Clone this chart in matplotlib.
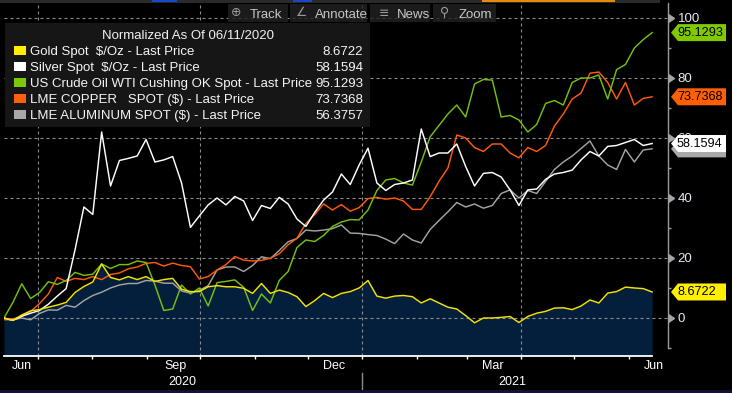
import matplotlib
matplotlib.use('Agg')
import matplotlib.pyplot as plt
import matplotlib.dates as mdates
import matplotlib.markers as mmarkers
from matplotlib.ticker import NullFormatter, FixedLocator, FixedFormatter
from matplotlib.patches import Rectangle, Polygon
from matplotlib.lines import Line2D
from matplotlib.transforms import Affine2D, blended_transform_factory
import pandas as pd

plt.rcParams['font.family'] = ['Liberation Sans', 'DejaVu Sans']

# ---------------- data ----------------
start_date = '2020-06-12'
end_date = '2021-06-14'
n_points = 74

gold = [0, -0.8, 1.0, 2.4, 2.8, 3.6, 4.3, 5.2, 8.5, 10.5, 12.0, 18.0, 13.5, 12.7, 13.8,
        12.8, 13.8, 12.2, 12.8, 13.2, 9.6, 8.8, 8.8, 10.4, 10.8, 10.4, 10.4, 9.9, 8.2,
        11.5, 8.2, 9.3, 8.5, 7.1, 3.8, 5.8, 8.2, 6.8, 8.2, 8.8, 10.0, 12.5, 7.3, 6.6,
        7.3, 7.5, 7.1, 5.0, 6.4, 5.0, 3.6, 3.0, 0.8, -1.6, 0, 0, 0.2, 0.5, -1.5, 0.5,
        1.6, 2.2, 3.3, 3.4, 2.8, 4.0, 6.0, 5.0, 8.3, 8.8, 10.3, 10.0, 9.8, 8.6722]

silver = [0, -0.8, 0.6, 1.6, 2.5, 4.6, 7.3, 9.8, 22.7, 37.0, 34.5, 62.0, 44.0, 52.5,
          53.2, 54.0, 59.5, 52.0, 52.7, 53.8, 45.0, 30.2, 34.0, 37.7, 40.0, 37.7, 40.5,
          39.0, 32.5, 37.5, 36.5, 40.2, 38.0, 33.0, 30.5, 35.2, 39.3, 42.0, 48.0, 44.5,
          51.0, 56.6, 45.0, 42.5, 44.5, 45.0, 46.0, 63.0, 53.8, 55.0, 55.0, 58.0, 50.5,
          44.0, 48.2, 48.5, 47.0, 42.7, 37.5, 42.7, 43.0, 46.2, 48.0, 48.5, 49.3, 52.7,
          55.5, 54.0, 57.2, 57.5, 58.5, 59.5, 57.5, 58.1594]

crude = [0, 5.2, 11.4, 6.5, 8.5, 12.1, 11.2, 12.5, 15.2, 14.2, 14.6, 18.0, 16.5, 17.8,
         17.8, 19.0, 18.5, 11.0, 2.5, 3.0, 11.0, 8.0, 10.0, 4.0, 11.8, 12.2, 12.7, 10.2,
         2.5, 8.0, 5.0, 12.5, 15.5, 23.5, 26.0, 25.5, 27.5, 30.5, 32.0, 32.8, 32.7, 36.0,
         42.5, 46.0, 46.5, 45.0, 44.3, 52.0, 60.4, 64.2, 68.0, 71.0, 67.0, 78.0, 79.5,
         79.3, 67.0, 67.5, 66.0, 62.0, 64.5, 71.5, 72.5, 71.0, 78.5, 80.0, 80.0, 81.0,
         73.0, 82.8, 84.5, 90.0, 92.8, 95.1293]

copper = [-0.5, -0.3, 0.5, 2.2, 4.8, 8.0, 13.5, 12.2, 13.2, 12.8, 13.8, 12.8, 14.5, 15.0,
          16.4, 17.0, 18.2, 18.5, 17.3, 18.3, 17.5, 17.1, 13.0, 13.8, 16.0, 17.8, 20.5,
          19.3, 19.0, 19.2, 19.9, 21.4, 24.4, 26.6, 31.5, 34.5, 38.0, 36.0, 37.8, 35.6,
          36.8, 39.8, 40.2, 39.6, 40.0, 39.0, 36.2, 36.2, 40.4, 45.6, 50.0, 61.0, 60.0,
          56.8, 55.5, 58.0, 58.0, 55.0, 53.4, 56.8, 55.5, 57.5, 64.0, 68.0, 73.0, 75.0,
          81.6, 82.0, 78.5, 73.0, 78.5, 71.0, 73.2, 73.7368]

aluminum = [-0.5, -0.6, 0, -0.6, 1.5, 2.7, 2.6, 4.2, 3.6, 5.8, 7.5, 8.6, 10.0, 11.0,
            11.5, 11.5, 12.5, 12.3, 11.6, 11.6, 9.0, 8.3, 9.2, 10.8, 16.0, 17.0, 17.0,
            15.5, 17.5, 20.4, 19.8, 22.5, 25.4, 26.5, 29.3, 29.0, 29.3, 29.8, 31.0, 28.3,
            28.2, 27.8, 27.5, 26.3, 24.8, 28.0, 26.0, 25.0, 29.5, 32.5, 35.4, 38.5, 37.0,
            38.0, 36.6, 37.5, 41.5, 42.7, 40.0, 42.5, 41.5, 45.5, 49.5, 52.0, 54.0, 56.5,
            59.0, 54.0, 51.0, 49.5, 56.2, 52.0, 56.0, 56.3757]

legend_title = 'Normalized As Of 06/11/2020'
series_labels = ['Gold Spot  \\$/Oz - Last Price',
                 'Silver Spot  \\$/Oz - Last Price',
                 'US Crude Oil WTI Cushing OK Spot - Last Price',
                 'LME COPPER   SPOT (\\$) - Last Price',
                 'LME ALUMINUM SPOT (\\$) - Last Price']
month_labels = ['Jun', 'Sep', 'Dec', 'Mar', 'Jun']
month_label_dates = ['2020-06-22', '2020-09-17', '2020-12-16', '2021-03-16', '2021-06-15']
year_labels = ['2020', '2021']
year_label_dates = ['2020-09-21', '2021-03-27']
year_break_date = '2021-01-01'
quarter_dates = ['2020-07-01', '2020-10-01', '2021-01-01', '2021-04-01']
y_major = [0, 20, 40, 60, 80, 100]
y_minor = [-10, 10, 30, 50, 70, 90]
toolbar = [('\u2295', 'Track'), ('\u2220', 'Annotate'), ('\u2261', 'News'), ('\u26b2', 'Zoom')]

# ---------------- styles ----------------
line_colors = ['#f2e400', '#ffffff', '#74c00e', '#ff5a0a', '#a3a3a3']
swatch_colors = ['#ffee00', '#ffffff', '#7cc80a', '#ff5f0f', '#a8a8a8']
tag_colors = ['#fff000', '#ffffff', '#80c800', '#ff5f00', '#a9a9a9']
values = [gold, silver, crude, copper, aluminum]

W, H = 732, 393
fig = plt.figure(figsize=(W / 100, H / 100), dpi=100, facecolor='black')
pix = Affine2D().scale(1 / W, -1 / H).translate(0, 1) + fig.transFigure

ax_l, ax_r, ax_t, ax_b = 4, 668, 3, 356
ax = fig.add_axes([ax_l / W, 1 - ax_b / H, (ax_r - ax_l) / W, (ax_b - ax_t) / H])
ax.set_facecolor('black')

dates = pd.date_range(start_date, end_date, periods=n_points)
x0 = dates[0]
ax.set_xlim(x0, x0 + pd.Timedelta(days=376))
ybot, ytop = -12.67, 105
ax.set_ylim(ybot, ytop)

# fill under gold
ax.fill_between(dates, gold, ybot, color='#041f3b', lw=0, zorder=1)

# grid
for v in y_major:
    ax.axhline(v, color='#8c8c8c', lw=0.8, ls=(0, (2.7, 2.7)), zorder=2)
for d in quarter_dates:
    ax.axvline(pd.Timestamp(d), ymin=0, ymax=(ax_b - 0) / (ax_b - ax_t), color='#8c8c8c',
               lw=0.8, ls=(0, (2.7, 2.7)), zorder=2, clip_on=False)

# lines
for vals, col in reversed(list(zip(values, line_colors))):
    ax.plot(dates, vals, color=col, lw=1.05, zorder=3)

# spines
for s in ['left', 'top']:
    ax.spines[s].set_visible(False)
ax.spines['right'].set_color('#9a9a9a')
ax.spines['right'].set_linewidth(1.0)
ax.spines['right'].set_bounds(-10, ytop)
ax.spines['bottom'].set_color('white')
ax.spines['bottom'].set_linewidth(1.3)
ax.spines['bottom'].set_bounds(mdates.date2num(dates[0]), mdates.date2num(dates[-1]))

# x ticks
ax.xaxis.set_major_locator(mdates.MonthLocator())
ax.xaxis.set_major_formatter(NullFormatter())
ax.tick_params(axis='x', which='major', length=2.5, width=1, color='white', direction='out')
ax.xaxis.set_minor_locator(FixedLocator(mdates.date2num(pd.to_datetime(month_label_dates))))
ax.xaxis.set_minor_formatter(FixedFormatter(month_labels))
ax.tick_params(axis='x', which='minor', length=0, pad=3, labelsize=9, labelcolor='white')

blend_x = blended_transform_factory(ax.transData, ax.transAxes)
for lab, d in zip(year_labels, year_label_dates):
    ax.text(pd.Timestamp(d), (ax_b - 382) / (ax_b - ax_t), lab, transform=blend_x,
            ha='center', va='center', color='white', fontsize=9)
ax.add_line(Line2D([pd.Timestamp(year_break_date)] * 2,
                   [(ax_b - 373) / (ax_b - ax_t), (ax_b - 393) / (ax_b - ax_t)],
                   transform=blend_x, color='#8a8a8a', lw=1, clip_on=False))

# y ticks
ax.yaxis.tick_right()
ax.set_yticks(y_major)
ax.set_yticks(y_minor, minor=True)
ax.yaxis.set_minor_formatter(NullFormatter())
ax.tick_params(axis='y', which='major', length=0, pad=7, labelsize=9.5, labelcolor='#e2e9f4')
ax.tick_params(axis='y', which='minor', length=2.5, width=1, color='#9a9a9a', direction='out')
blend_y = blended_transform_factory(ax.transAxes, ax.transData)
ax.plot([1.0] * len(y_major), y_major, transform=blend_y, ls='none',
        marker=mmarkers.CARETRIGHTBASE, ms=6, color='#a5a5a5', clip_on=False, zorder=5)


# value tags
def ypix(v):
    return H - ax.transData.transform((0, v))[1]


tag_order = [2, 3, 4, 1, 0]
for z, k in enumerate(tag_order):
    v = values[k][-1]
    yc = ypix(v)
    poly = Polygon([(671, yc), (678, yc - 8.5), (726, yc - 8.5), (726, yc + 8.5), (678, yc + 8.5)],
                   closed=True, transform=pix, fc=tag_colors[k], ec='none', zorder=20 + 2 * z)
    fig.add_artist(poly)
    fig.text(677, yc + 0.5, f'{v:.4f}', transform=pix, ha='left', va='center', color='black',
             fontsize=9.1, zorder=21 + 2 * z)

# legend box
fig.add_artist(Rectangle((5, 23), 365, 104, transform=pix, fc='#161616', ec='none', zorder=10))
fig.text(188, 39.3, legend_title, transform=pix, ha='center', va='baseline', color='#f2f2f2',
         fontsize=9.5, zorder=11)
for k in range(5):
    yb = 55 + 16 * k
    fig.add_artist(Rectangle((14, yb - 9.5), 12, 9.5, transform=pix, fc=swatch_colors[k],
                             ec='none', zorder=11))
    fig.text(30, yb, series_labels[k], transform=pix, ha='left', va='baseline', color='#f5f5f5',
             fontsize=9.5, zorder=11)
    fig.text(363, yb, f'{values[k][-1]:.4f}', transform=pix, ha='right', va='baseline',
             color='#f5f5f5', fontsize=9.5, zorder=11)

# toolbar and top strip
fig.add_artist(Rectangle((0, 0), 660, 2.5, transform=pix, fc='#2a2a2a', ec='none', zorder=9))
for xa, xb, c in [(152, 177, '#1848c8'), (293, 312, '#1848c8'), (482, 615, '#e88a10')]:
    fig.add_artist(Rectangle((xa, 0), xb - xa, 2, transform=pix, fc=c, ec='none', zorder=9))
boxes = [(228, 60, 236, 250), (290, 77, 302, 315), (370, 60, 384, 397), (433, 63, 445, 459)]
for (bx, bw, ix, tx), (icon, name) in zip(boxes, toolbar):
    fig.add_artist(Rectangle((bx, 4), bw, 18, transform=pix, fc='#222222', ec='none',
                             alpha=0.8, zorder=9))
    fig.text(ix, 13, icon, transform=pix, ha='center', va='center', color='#9a9a9a',
             fontsize=9, zorder=10, family=['DejaVu Sans'])
    fig.text(tx, 18.3, name, transform=pix, ha='left', va='baseline', color='#c8c8c8',
             fontsize=9.5, zorder=10)

# bottom band
fig.add_artist(Rectangle((0, 389.5), W, 4, transform=pix, fc='#121238', ec='none', zorder=9))

fig.savefig('out.png', dpi=100, facecolor='black')
